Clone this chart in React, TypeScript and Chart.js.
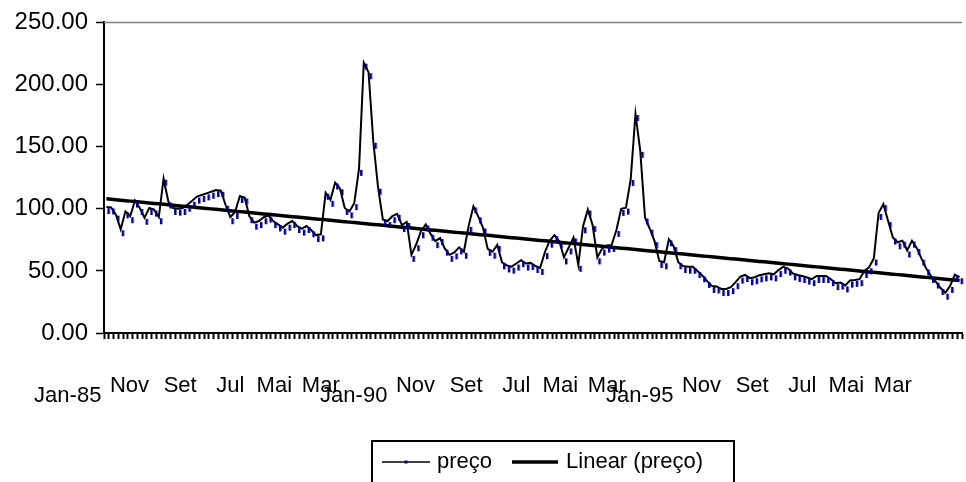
import React, { useEffect, useRef } from 'react';
import { Chart, registerables } from 'chart.js';

Chart.register(...registerables);

const FONT = '"Liberation Sans", Arial, Helvetica, sans-serif';

// Monthly price series, Jan-85 .. Dec-99
const monthNames = ['Jan', 'Fev', 'Mar', 'Abr', 'Mai', 'Jun', 'Jul', 'Ago', 'Set', 'Out', 'Nov', 'Dez'];
const years = ['85', '86', '87', '88', '89', '90', '91', '92', '93', '94', '95', '96', '97', '98', '99'];

// Axis labels shown every 10 months
const tickLabels = ['Jan-85', 'Nov', 'Set', 'Jul', 'Mai', 'Mar', 'Jan-90', 'Nov', 'Set', 'Jul', 'Mai', 'Mar', 'Jan-95', 'Nov', 'Set', 'Jul', 'Mai', 'Mar'];
const yTicks = [0, 50, 100, 150, 200, 250];

const preco1985 = [99, 98.7, 92.9, 81.1, 95.5, 91.6, 104.2, 98.2, 90.3, 98.2, 96.9, 90.8];
const preco1986 = [121.8, 103.4, 98.2, 97.7, 98.2, 100.8, 104, 107.4, 108.7, 110, 111.3, 112.6];
const preco1987 = [112.1, 100.8, 90.8, 95, 107.9, 106.6, 91.6, 86.4, 87.7, 90.8, 92.1, 87.7];
const preco1988 = [85, 82.4, 85.6, 87.7, 83.7, 81.6, 83.7, 80.3, 76.4, 77, 110.5, 104.8];
const preco1989 = [118.7, 114, 98.2, 95.5, 102.1, 129.7, 215.2, 207.5, 151.5, 114.5, 89, 87.7];
const preco1990 = [91.6, 93.5, 84.5, 87, 60.5, 69, 79.5, 85, 77.5, 71.5, 74, 65.5];
const preco1991 = [60.5, 62.5, 66.5, 63, 83.8, 99.5, 91.5, 82.5, 65.3, 63, 68.5, 54.5];
const preco1992 = [52, 51, 53.5, 56.2, 53.5, 54, 51.5, 50, 62.7, 71.9, 76.4, 71.5];
const preco1993 = [58.5, 66.5, 74.5, 52.5, 83.5, 96.9, 84.5, 58.5, 65.5, 68, 68.5, 80.5];
const preco1994 = [97.5, 98.5, 121.5, 173.9, 144.2, 90.5, 81.5, 71.5, 55.5, 54.5, 73, 67.5];
const preco1995 = [54.5, 51.5, 51, 50.9, 47.5, 44, 39.5, 35.5, 35.1, 33, 33, 34.5];
const preco1996 = [38.5, 43, 44.3, 41.7, 42.5, 44, 44.8, 45.6, 44.8, 48.2, 50.9, 49.5];
const preco1997 = [45.6, 44.3, 43.5, 42.2, 40.9, 43.5, 43.5, 43.5, 40.9, 37.7, 38.2, 35.9];
const preco1998 = [39.8, 40.3, 40.9, 47.5, 50.5, 57.5, 94.2, 101.3, 87.7, 74.5, 70.6, 71.9];
const preco1999 = [64, 71.9, 66.1, 57.4, 49.5, 43.5, 39, 33.8, 30, 35.5, 44.5, 42.5];

const preco = [
  ...preco1985, ...preco1986, ...preco1987, ...preco1988, ...preco1989,
  ...preco1990, ...preco1991, ...preco1992, ...preco1993, ...preco1994,
  ...preco1995, ...preco1996, ...preco1997, ...preco1998, ...preco1999,
];

const categories = years.flatMap((y) => monthNames.map((m) => `${m}-${y}`));

// Least-squares linear trend over the month index
function linearTrend(values: number[]): number[] {
  const n = values.length;
  let sx = 0, sy = 0, sxx = 0, sxy = 0;
  values.forEach((v, i) => {
    sx += i; sy += v; sxx += i * i; sxy += i * v;
  });
  const slope = (n * sxy - sx * sy) / (n * sxx - sx * sx);
  const intercept = (sy - slope * sx) / n;
  return values.map((_, i) => intercept + slope * i);
}

// Raised stroke for the price line: the line sits a few pixels above its markers
const LINE_LIFT = 3;

function makeDashMarker(): HTMLCanvasElement {
  const c = document.createElement('canvas');
  c.width = 12;
  c.height = 20;
  const g = c.getContext('2d')!;
  g.fillStyle = '#000080';
  // dash drawn right of and below the vertex, compensating the raised stroke
  g.fillRect(7, 10 + LINE_LIFT - 2, 2.5, 6);
  return c;
}

const liftedLine = {
  id: 'liftedLine',
  beforeDatasetDraw(chart: any, args: any) {
    if (args.index !== 0) return;
    chart.ctx.save();
    chart.ctx.translate(0, -LINE_LIFT);
  },
  afterDatasetDraw(chart: any, args: any) {
    if (args.index !== 0) return;
    chart.ctx.restore();
  },
};

const frameAndLegend = {
  id: 'frameAndLegend',
  afterDraw(chart: any) {
    const { ctx, chartArea } = chart;
    const ds = chart.data.datasets;
    ctx.save();
    // grey top edge of the plot area
    ctx.strokeStyle = '#808080';
    ctx.lineWidth = 1.5;
    ctx.beginPath();
    ctx.moveTo(chartArea.left, chartArea.top);
    ctx.lineTo(chartArea.right, chartArea.top);
    ctx.stroke();

    // legend box
    ctx.strokeStyle = '#000';
    ctx.lineWidth = 2;
    ctx.strokeRect(372, 441, 362, 60);
    ctx.font = `22px ${FONT}`;
    ctx.textBaseline = 'middle';
    ctx.textAlign = 'left';
    const cy = 462;
    let x = 382;
    const sample = 48;

    ctx.strokeStyle = ds[0].borderColor;
    ctx.lineWidth = 1.5;
    ctx.beginPath();
    ctx.moveTo(x, cy);
    ctx.lineTo(x + sample, cy);
    ctx.stroke();
    ctx.fillStyle = '#000080';
    ctx.fillRect(x + sample / 2 - 1.5, cy - 1.5, 3, 3);
    x += sample + 7;
    ctx.fillStyle = '#000';
    ctx.fillText(ds[0].label, x, cy);
    x += ctx.measureText(ds[0].label).width + 20;

    ctx.strokeStyle = ds[1].borderColor;
    ctx.lineWidth = 3.5;
    ctx.beginPath();
    ctx.moveTo(x, cy);
    ctx.lineTo(x + sample - 2, cy);
    ctx.stroke();
    x += sample + 6;
    ctx.fillText(ds[1].label, x, cy);
    ctx.restore();
  },
};

export default function App() {
  const ref = useRef<HTMLCanvasElement>(null);

  useEffect(() => {
    const canvas = ref.current;
    if (!canvas) return;
    const marker = makeDashMarker();
    const chart = new Chart(canvas, {
      type: 'line',
      data: {
        labels: categories,
        datasets: [
          {
            label: 'preço',
            data: preco,
            borderColor: '#000',
            borderWidth: 2,
            pointStyle: marker as any,
            pointRadius: 3,
            pointBackgroundColor: '#000080',
            pointBorderWidth: 0,
            tension: 0,
            fill: false,
          },
          {
            label: 'Linear (preço)',
            data: linearTrend(preco),
            borderColor: '#000',
            borderWidth: 3.5,
            pointRadius: 0,
            tension: 0,
            fill: false,
          },
        ],
      },
      options: {
        responsive: false,
        animation: false,
        devicePixelRatio: 1,
        events: [],
        layout: { padding: { top: 16, right: 0, left: 0, bottom: 0 } },
        plugins: {
          legend: { display: false },
          tooltip: { enabled: false },
        },
        scales: {
          x: {
            type: 'category',
            offset: true,
            afterFit: (scale: any) => {
              scale.height = 149;
              scale.paddingRight = 0;
            },
            grid: {
              offset: true,
              drawOnChartArea: false,
              drawTicks: true,
              tickLength: 6,
              tickWidth: 2,
              color: '#000',
            },
            border: { display: true, color: '#000', width: 2 },
            ticks: {
              autoSkip: false,
              maxRotation: 0,
              minRotation: 0,
              align: 'end',
              labelOffset: -5,
              padding: 34,
              color: '#000',
              font: (c: any) => ({
                family: FONT,
                size: 22,
                lineHeight: c.index % 60 === 0 ? 0.7 : 1.2,
              }),
              callback: (_v: any, index: number) => {
                if (index % 10 !== 0) return '';
                const label = tickLabels[index / 10];
                return label.startsWith('Jan') ? ['', label] : label;
              },
            },
          },
          y: {
            min: yTicks[0],
            max: yTicks[yTicks.length - 1],
            afterFit: (scale: any) => { scale.width = 104; },
            afterBuildTicks: (scale: any) => {
              scale.ticks = yTicks.map((v) => ({ value: v }));
            },
            grid: {
              drawOnChartArea: false,
              drawTicks: true,
              tickLength: 8,
              tickWidth: 1.5,
              color: '#000',
            },
            border: { display: true, color: '#000', width: 2 },
            ticks: {
              padding: 8,
              color: '#000',
              font: { family: FONT, size: 24 },
              callback: (v: any) => Number(v).toFixed(2),
            },
          },
        },
      },
      plugins: [liftedLine, frameAndLegend],
    });
    return () => chart.destroy();
  }, []);

  return (
    <div style={{ position: 'absolute', left: 0, top: 0, width: 966, height: 482, background: '#fff' }}>
      <canvas ref={ref} width={966} height={482} style={{ display: 'block' }} />
    </div>
  );
}
